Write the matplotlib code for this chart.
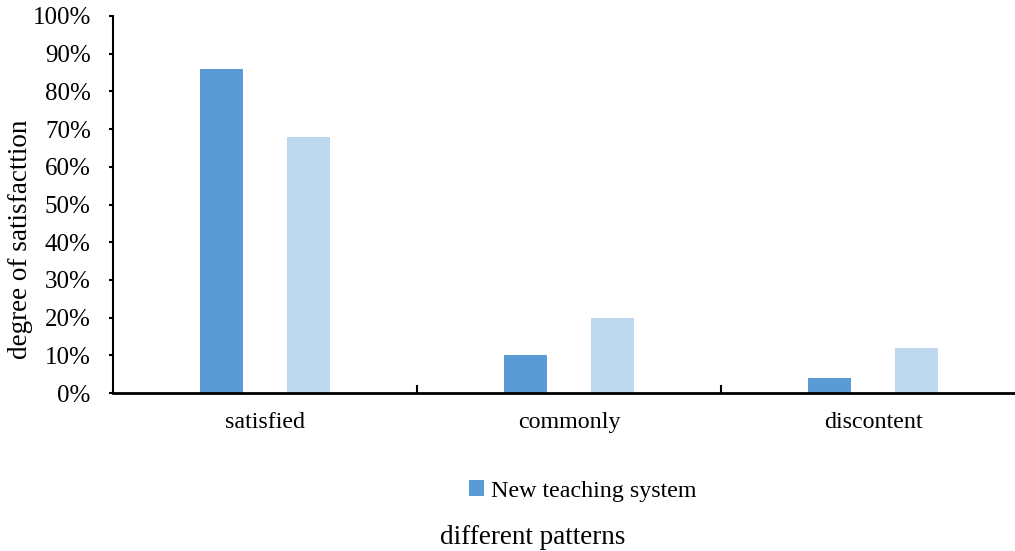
import numpy as np
import matplotlib
matplotlib.use("Agg")
import matplotlib.pyplot as plt
from matplotlib.ticker import PercentFormatter, FixedLocator

plt.rcParams["font.family"] = ["Liberation Serif", "DejaVu Serif"]

patterns = ["satisfied", "commonly", "discontent"]
new_system = [86, 10, 4]
old_system = [68, 20, 12]

fig = plt.figure(figsize=(10.15, 5.51), dpi=100)
# plot area runs a little past the right edge of the figure
ax = fig.add_axes([113 / 1015, 158 / 551, 912 / 1015, 377 / 551])

x = np.arange(len(patterns))
w = 0.142
ax.bar(x - 0.143, new_system, width=w, color="#5B9BD5", label="New teaching system")
ax.bar(x + 0.143, old_system, width=w, color="#BDD7EE")

ax.set_xlim(-0.5, 2.5)
ax.set_ylim(0, 100)
ax.yaxis.set_major_locator(FixedLocator(np.arange(0, 101, 10)))
ax.yaxis.set_major_formatter(PercentFormatter(decimals=0))

ax.set_xticks(x)
ax.set_xticklabels(patterns)
ax.set_xticks([0.5, 1.5], minor=True)
ax.tick_params(axis="x", which="major", length=0, pad=14, labelsize=17.3)
ax.tick_params(axis="x", which="minor", direction="in", length=6, width=1.5)
ax.tick_params(axis="y", direction="out", length=3, width=1.5, pad=13, labelsize=18)

for s in ["top", "right"]:
    ax.spines[s].set_visible(False)
ax.spines["left"].set_linewidth(1.5)
ax.spines["bottom"].set_linewidth(2)

fig.text(21 / 1015, 1 - 239 / 551, "degree of satisfacttion", rotation=90,
         ha="center", va="center", fontsize=19.5)
fig.text(533 / 1015, 1 - 537 / 551, "different patterns",
         ha="center", va="center", fontsize=19.5)

fig.legend(loc="center", bbox_to_anchor=(583 / 1015, 1 - 491 / 551), frameon=False,
           fontsize=17.3, handlelength=0.6, handleheight=0.6, handletextpad=0.3)

fig.savefig("out.png", dpi=100)
